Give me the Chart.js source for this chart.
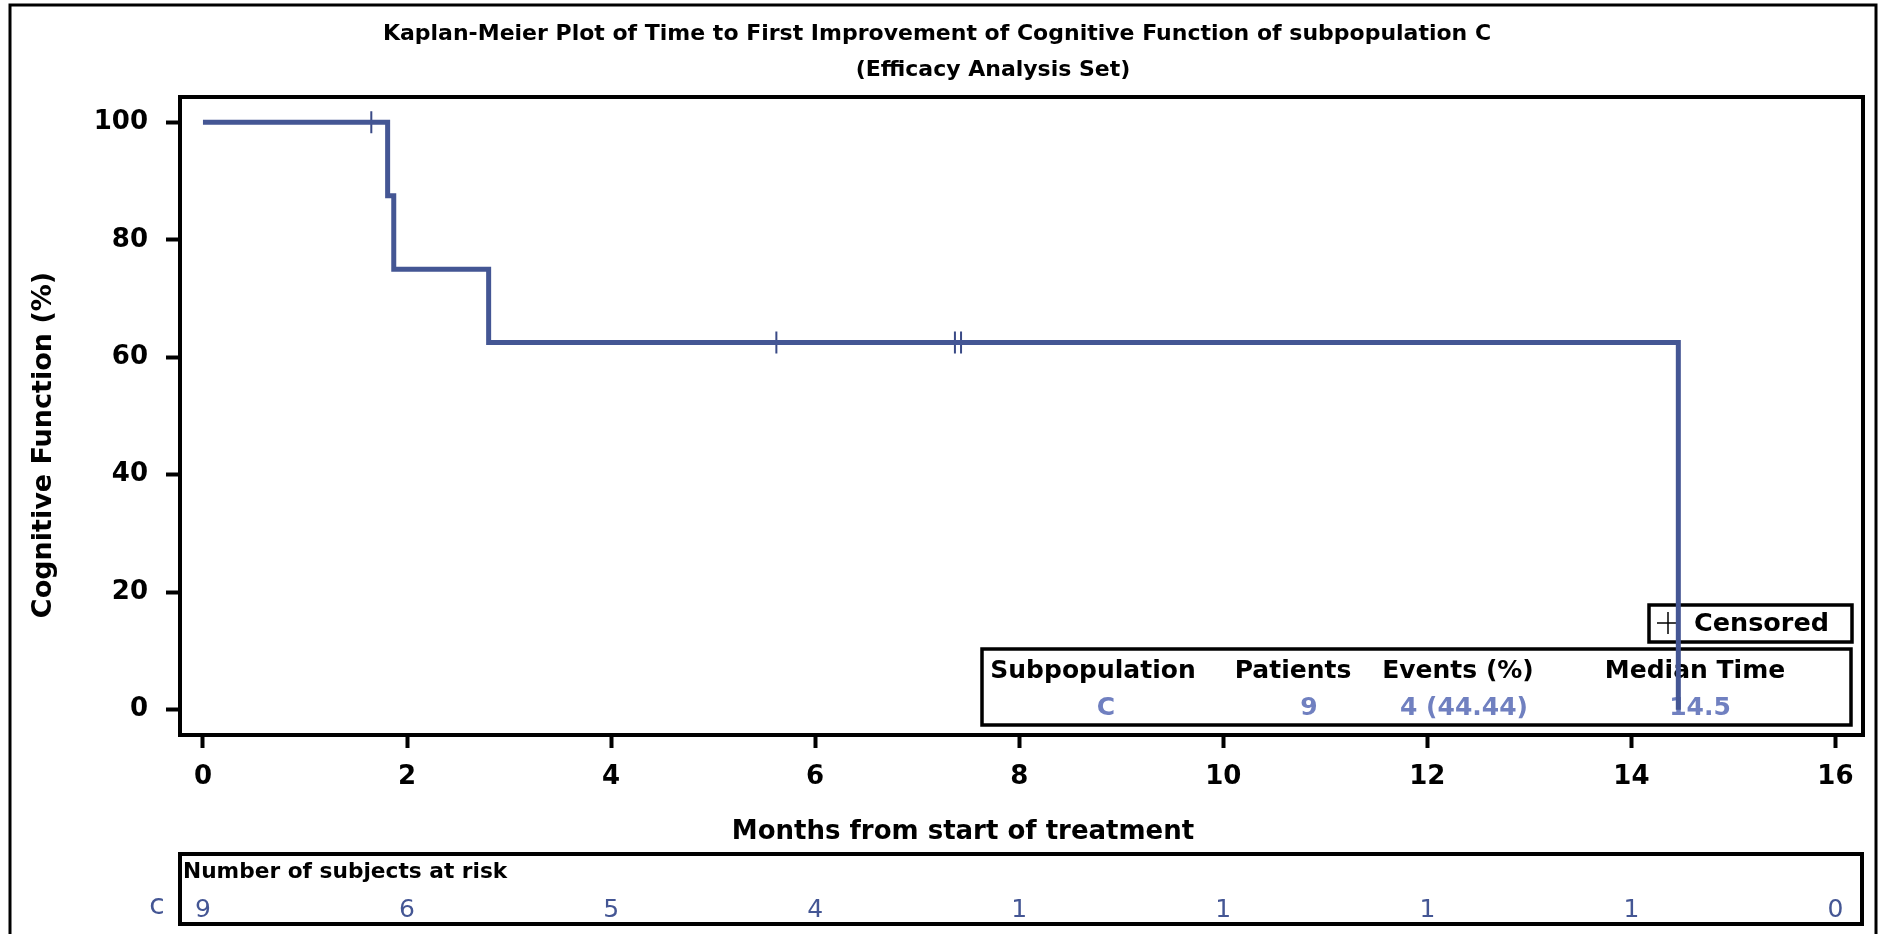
<!DOCTYPE html>
<html>
<head>
<meta charset="utf-8">
<script src="https://cdn.jsdelivr.net/npm/chart.js@4"></script>
<style>
  body { margin: 0; background: #fff; }
  canvas { display: block; }
</style>
</head>
<body>
<canvas id="kmChart" width="1881" height="934"></canvas>
<script>
// KM curve (event times / survival in %)
const eventTimes = [0, 1.81, 1.87, 2.80, 14.46];
const survival = [100, 87.5, 75, 62.5, 0];

// censored subjects
const censorTimes = [1.65, 5.62, 7.37, 7.43];
const censorSurvival = [100, 62.5, 62.5, 62.5];

// axes
const xTickValues = [0, 2, 4, 6, 8, 10, 12, 14, 16];
const yTickValues = [0, 20, 40, 60, 80, 100];

// number at risk at each x tick
const atRiskCounts = [9, 6, 5, 4, 1, 1, 1, 1, 0];

// summary table
const tableHeaders = ['Subpopulation', 'Patients', 'Events (%)', 'Median Time'];
const tableValues = ['C', '9', '4 (44.44)', '14.5'];

const curveColor = '#445694';
const valueColor = '#7080c0';
const fontFamily = '"DejaVu Sans", sans-serif';

function boldFont(size) { return 'bold ' + size + 'px ' + fontFamily; }

const annotations = {
  id: 'annotations',
  beforeDatasetsDraw(chart) {
    const ctx = chart.ctx;
    const area = chart.chartArea;
    ctx.save();
    ctx.strokeStyle = '#000';

    // outer frame
    ctx.lineWidth = 3;
    ctx.strokeRect(10, 5, 1866, 940);

    // plot frame
    ctx.lineWidth = 4;
    ctx.strokeRect(area.left, area.top, area.right - area.left, area.bottom - area.top);

    // censored legend
    ctx.lineWidth = 3.5;
    ctx.strokeRect(1649, 605, 203, 37);
    ctx.lineWidth = 1.5;
    ctx.beginPath();
    ctx.moveTo(1657, 623); ctx.lineTo(1679, 623);
    ctx.moveTo(1668, 612); ctx.lineTo(1668, 634);
    ctx.stroke();
    ctx.fillStyle = '#000';
    ctx.font = boldFont(25.5);
    ctx.textAlign = 'left';
    ctx.textBaseline = 'middle';
    ctx.fillText('Censored', 1694, 624);

    // summary table
    ctx.lineWidth = 3.5;
    ctx.strokeRect(982, 649, 869, 76);
    ctx.font = boldFont(25);
    const colCenters = [1093, 1293, 1458, 1695];
    ctx.textAlign = 'center';
    tableHeaders.forEach(function(h, i) {
      ctx.fillStyle = '#000';
      ctx.fillText(h, colCenters[i], 671);
    });
    const valCenters = [1106, 1309, 1464, 1700];
    tableValues.forEach(function(v, i) {
      ctx.fillStyle = valueColor;
      ctx.fillText(v, valCenters[i], 708);
    });
    ctx.restore();
  },
  afterDraw(chart) {
    const ctx = chart.ctx;
    const x = chart.scales.x;
    ctx.save();
    ctx.fillStyle = '#000';
    ctx.textBaseline = 'middle';
    ctx.textAlign = 'center';

    // titles
    ctx.font = boldFont(22);
    ctx.fillText('Kaplan-Meier Plot of Time to First Improvement of Cognitive Function of subpopulation C', 937, 34);
    ctx.fillText('(Efficacy Analysis Set)', 993, 70);

    // axis titles
    ctx.font = boldFont(26);
    ctx.fillText('Months from start of treatment', 963, 832);
    ctx.save();
    ctx.translate(44, 445);
    ctx.rotate(-Math.PI / 2);
    ctx.font = boldFont(27);
    ctx.fillText('Cognitive Function (%)', 0, 0);
    ctx.restore();

    // at-risk table
    ctx.strokeStyle = '#000';
    ctx.lineWidth = 4;
    ctx.strokeRect(180, 854, 1682, 70);
    ctx.textAlign = 'left';
    ctx.font = boldFont(21.7);
    ctx.fillText('Number of subjects at risk', 183, 872);
    ctx.fillStyle = curveColor;
    ctx.font = '25px ' + fontFamily;
    ctx.textAlign = 'center';
    atRiskCounts.forEach(function(n, i) {
      ctx.fillText(String(n), x.getPixelForValue(xTickValues[i]), 910);
    });
    ctx.font = '28px ' + fontFamily;
    ctx.fillText('c', 157, 907);
    ctx.restore();
  }
};

new Chart(document.getElementById('kmChart'), {
  type: 'scatter',
  data: {
    datasets: [
      {
        label: 'C',
        data: eventTimes.map(function(t, i) { return { x: t, y: survival[i] }; }),
        showLine: true,
        stepped: true,
        borderColor: curveColor,
        borderWidth: 5,
        borderJoinStyle: 'miter',
        borderCapStyle: 'butt',
        pointRadius: 0
      },
      {
        label: 'Censored',
        data: censorTimes.map(function(t, i) { return { x: t, y: censorSurvival[i] }; }),
        showLine: false,
        pointStyle: 'cross',
        pointRadius: 11,
        pointBorderWidth: 2,
        pointBorderColor: '#3a4a86',
        pointHoverRadius: 11
      }
    ]
  },
  options: {
    responsive: false,
    animation: false,
    layout: { padding: { top: 97, right: 18, left: 0, bottom: 0 } },
    plugins: {
      legend: { display: false },
      title: { display: false },
      tooltip: { enabled: false }
    },
    scales: {
      x: {
        type: 'linear',
        min: -0.225,
        max: 16.27,
        afterBuildTicks: function(s) { s.ticks = xTickValues.map(function(v) { return { value: v }; }); },
        afterFit: function(s) { s.height = 199; },
        ticks: {
          autoSkip: false,
          maxRotation: 0,
          padding: 14,
          color: '#000',
          font: { family: fontFamily, weight: 'bold', size: 26 }
        },
        grid: { drawOnChartArea: false, tickLength: 13, tickWidth: 4, tickColor: '#000' },
        border: { display: false }
      },
      y: {
        type: 'linear',
        min: -4.3,
        max: 104.3,
        afterBuildTicks: function(s) { s.ticks = yTickValues.map(function(v) { return { value: v }; }); },
        afterFit: function(s) { s.width = 180; },
        ticks: {
          autoSkip: false,
          padding: 18,
          color: '#000',
          font: { family: fontFamily, weight: 'bold', size: 26 }
        },
        grid: { drawOnChartArea: false, tickLength: 14, tickWidth: 4, tickColor: '#000' },
        border: { display: false }
      }
    }
  },
  plugins: [annotations]
});
</script>
</body>
</html>
